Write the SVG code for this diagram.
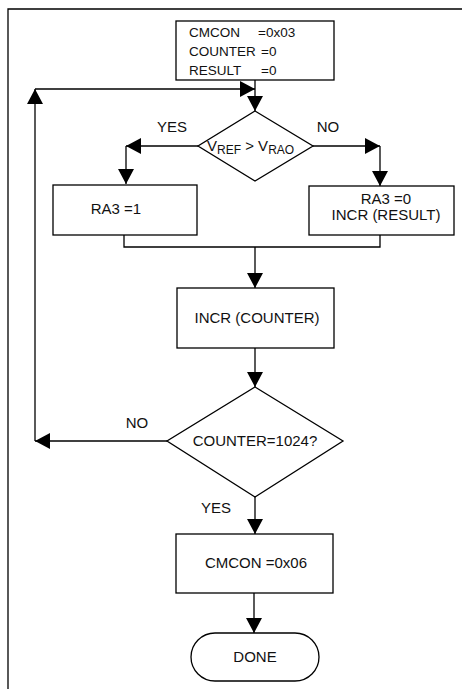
<svg xmlns="http://www.w3.org/2000/svg" width="471" height="689" viewBox="0 0 471 689">
  <defs>
    <marker id="arrow" markerUnits="userSpaceOnUse" markerWidth="16" markerHeight="16" viewBox="0 0 16 16" refX="15" refY="8" orient="auto">
      <path d="M0,0 L15,8 L0,16 z" fill="#000"/>
    </marker>
    <style>
      .shape { fill: #fff; stroke: #000; stroke-width: 1.3; }
      .line { fill: none; stroke: #000; stroke-width: 1.3; }
      .arr { marker-end: url(#arrow); }
      text { font-family: "Liberation Sans", Arial, sans-serif; font-size: 15px; fill: #111; }
      .mid { text-anchor: middle; }
      .init { font-size: 13.5px; }
      .sub { font-size: 12px; }
    </style>
  </defs>

  <rect width="471" height="689" fill="#fff"/>

  <!-- outer frame (top and left edges) -->
  <path class="line" d="M8,689 V9 H462"/>

  <!-- connectors -->
  <g id="connectors">
    <path class="line arr" d="M255,80 V111"/>
    <path class="line arr" d="M35,441 V89"/>
    <path class="line arr" d="M35,89 H255"/>
    <path class="line arr" d="M198,146 H126"/>
    <path class="line arr" d="M126,146 V184"/>
    <path class="line arr" d="M313,146 H380"/>
    <path class="line arr" d="M380,146 V186"/>
    <path class="line" d="M124,235 V247 H380 V235"/>
    <path class="line arr" d="M255,247 V288"/>
    <path class="line arr" d="M255,348 V387"/>
    <path class="line arr" d="M167,441 H35"/>
    <path class="line arr" d="M255,497 V534"/>
    <path class="line arr" d="M254,593 V633"/>
    <text x="172" y="132" class="mid">YES</text>
    <text x="328" y="132" class="mid">NO</text>
    <text x="137" y="428" class="mid">NO</text>
    <text x="216" y="513" class="mid">YES</text>
  </g>

  <g id="init">
    <rect class="shape" x="176" y="21" width="158" height="59"/>
    <text class="init" y="37"><tspan x="189">CMCON</tspan><tspan x="258">=0x03</tspan></text>
    <text class="init" y="56"><tspan x="189">COUNTER</tspan><tspan x="261">=0</tspan></text>
    <text class="init" y="75"><tspan x="189">RESULT</tspan><tspan x="261">=0</tspan></text>
  </g>

  <g id="compare">
    <path class="shape" d="M255,111 L313,146 L255,181 L198,146 z"/>
    <text x="207" y="151" font-size="16">V<tspan class="sub" dy="3">REF</tspan><tspan dy="-3"> &gt; V</tspan><tspan class="sub" dy="3">RAO</tspan></text>
  </g>

  <g id="set-high">
    <rect class="shape" x="53" y="185" width="144" height="50"/>
    <text x="116" y="214" class="mid">RA3 =1</text>
  </g>

  <g id="set-low">
    <rect class="shape" x="309" y="186" width="145" height="49"/>
    <text x="386" y="204" class="mid">RA3 =0</text>
    <text x="386" y="220" class="mid">INCR (RESULT)</text>
  </g>

  <g id="incr-counter">
    <rect class="shape" x="177" y="288" width="157" height="60"/>
    <text x="257" y="323" class="mid">INCR (COUNTER)</text>
  </g>

  <g id="check-count">
    <path class="shape" d="M255,387 L343,441 L255,497 L167,441 z"/>
    <text x="255" y="446" class="mid">COUNTER=1024?</text>
  </g>

  <g id="set-cmcon">
    <rect class="shape" x="176" y="534" width="157" height="59"/>
    <text x="256" y="568" class="mid">CMCON =0x06</text>
  </g>

  <g id="done">
    <rect class="shape" x="191" y="633" width="128" height="48" rx="24" ry="24"/>
    <text x="255" y="662" class="mid">DONE</text>
  </g>
</svg>
